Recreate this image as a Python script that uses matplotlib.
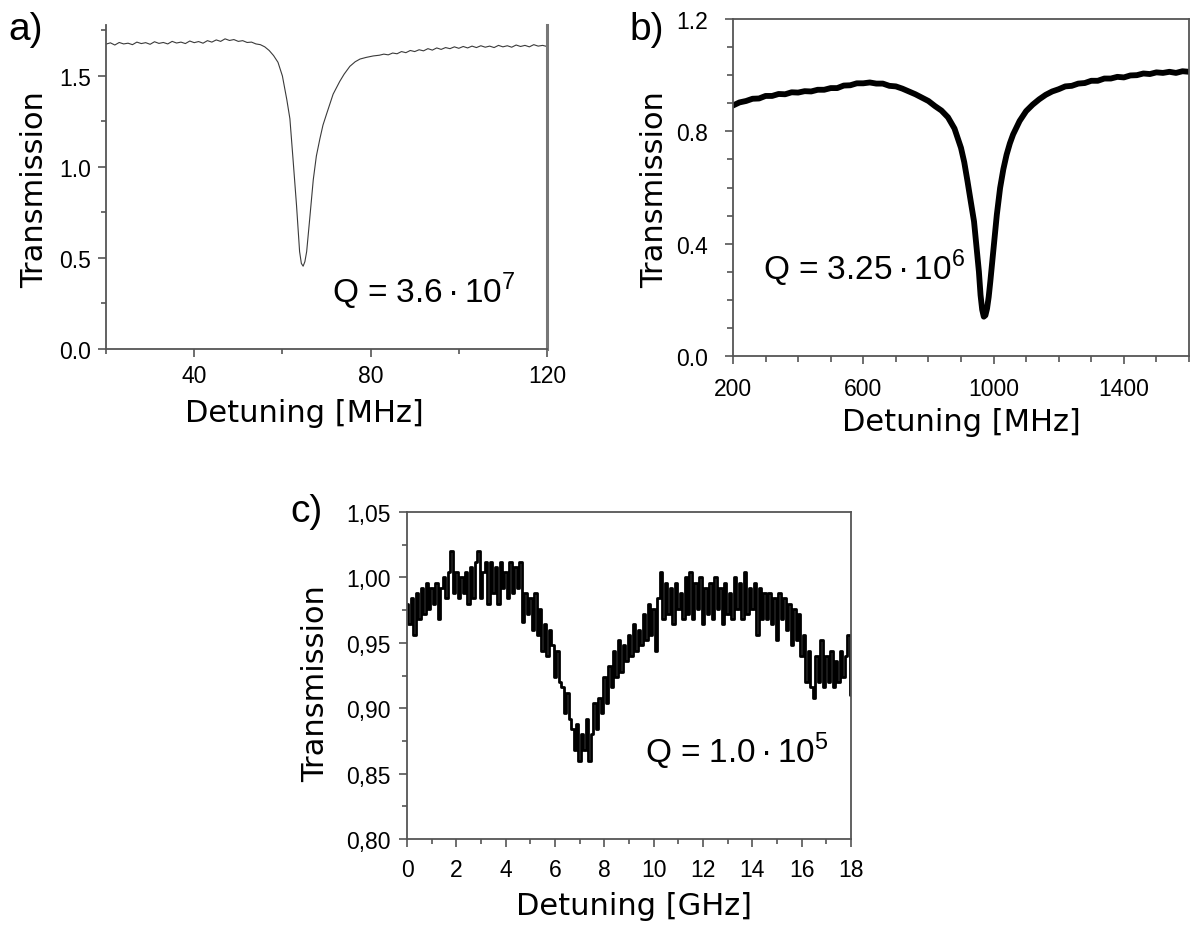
"""Three cavity transmission traces (a, b, c) with quality factors."""
import numpy as np
import matplotlib
matplotlib.use("Agg")
import matplotlib.pyplot as plt
from matplotlib.ticker import MultipleLocator, FixedLocator, FuncFormatter

plt.rcParams["font.family"] = ["Liberation Sans", "DejaVu Sans"]
plt.rcParams["mathtext.fontset"] = "custom"
plt.rcParams["mathtext.rm"] = "Liberation Sans"

W, H = 1200, 929

# --- data -----------------------------------------------------------------
# a) detuning [MHz] vs transmission
a_x = [20, 21, 22, 23, 24, 25, 26, 27, 28, 29, 30, 31, 32, 33, 34, 35, 36, 37,
       38, 39, 40, 41, 42, 43, 44, 45, 46, 47, 48, 49, 50, 51, 52, 53, 54, 55,
       56, 57, 58, 59, 60, 61, 61.7, 62.4, 63.2, 63.9, 64.3, 64.7, 65.1, 65.5,
       66.2, 67, 67.7, 68.5, 69.2, 70, 71.5, 73, 74, 75.3, 76.5, 77.6, 79,
       80.6, 82, 83, 84, 85, 86, 87, 88, 89, 90, 91, 92, 93, 94, 95, 96, 97,
       98, 99, 100, 101, 102, 103, 104, 105, 106, 107, 108, 109, 110, 111,
       112, 113, 114, 115, 116, 117, 118, 119, 120]
a_y = [1.675, 1.682, 1.670, 1.684, 1.676, 1.680, 1.672, 1.686, 1.678, 1.683,
       1.674, 1.688, 1.679, 1.684, 1.676, 1.690, 1.681, 1.686, 1.678, 1.692,
       1.683, 1.689, 1.680, 1.694, 1.686, 1.698, 1.690, 1.704, 1.695, 1.700,
       1.690, 1.694, 1.684, 1.686, 1.676, 1.672, 1.660, 1.640, 1.612, 1.575,
       1.500, 1.370, 1.265, 1.046, 0.790, 0.535, 0.470, 0.455, 0.480, 0.535,
       0.717, 0.930, 1.060, 1.155, 1.230, 1.290, 1.400, 1.470, 1.510, 1.553,
       1.578, 1.593, 1.602, 1.610, 1.614, 1.620, 1.616, 1.626, 1.622, 1.634,
       1.628, 1.640, 1.634, 1.644, 1.638, 1.650, 1.642, 1.654, 1.646, 1.656,
       1.650, 1.660, 1.652, 1.662, 1.654, 1.664, 1.656, 1.666, 1.658, 1.664,
       1.656, 1.668, 1.660, 1.666, 1.658, 1.670, 1.662, 1.668, 1.660, 1.672,
       1.664, 1.668, 1.662]

# b) detuning [MHz] vs transmission
b_x = [200, 220, 240, 260, 280, 300, 320, 340, 360, 380, 400, 420, 440, 460,
       480, 500, 520, 540, 560, 580, 600, 620, 640, 660, 680, 700, 720, 740,
       760, 780, 800, 820, 840, 860, 880, 900, 910, 920, 930, 940, 950, 955,
       960, 965, 970, 975, 980, 985, 990, 1000, 1010, 1020, 1030, 1040, 1050,
       1060, 1080, 1100, 1120, 1140, 1160, 1180, 1200, 1220, 1240, 1260, 1280,
       1300, 1320, 1340, 1360, 1380, 1400, 1420, 1440, 1460, 1480, 1500, 1520,
       1540, 1560, 1580, 1600]
b_y = [0.892, 0.903, 0.908, 0.916, 0.917, 0.926, 0.926, 0.933, 0.932, 0.939,
       0.938, 0.943, 0.942, 0.948, 0.948, 0.954, 0.954, 0.963, 0.964, 0.971,
       0.971, 0.974, 0.970, 0.970, 0.962, 0.960, 0.952, 0.942, 0.932, 0.920,
       0.908, 0.890, 0.874, 0.850, 0.810, 0.741, 0.690, 0.622, 0.550, 0.479,
       0.360, 0.300, 0.217, 0.165, 0.140, 0.145, 0.169, 0.210, 0.265, 0.384,
       0.503, 0.598, 0.665, 0.717, 0.757, 0.789, 0.837, 0.872, 0.895, 0.914,
       0.930, 0.942, 0.950, 0.960, 0.962, 0.970, 0.972, 0.980, 0.980, 0.988,
       0.988, 0.994, 0.992, 0.999, 1.000, 1.006, 1.004, 1.010, 1.008, 1.012,
       1.008, 1.014, 1.012]

# c) detuning [GHz] vs transmission, one sample every 0.1 GHz from 0 to 18
c_start, c_step = 0.0, 0.1
c_y = [0.980, 0.964, 0.984, 0.956, 0.988, 0.968,
       0.992, 0.972, 0.996, 0.976, 0.992, 0.980, 0.996, 0.968, 0.992,
       1.000, 0.984, 1.004, 1.020, 0.988, 1.004, 0.984, 1.000, 0.988, 1.004,
       0.980, 1.008, 0.984, 1.012, 1.020, 0.984, 1.004, 1.012, 0.980, 1.012,
       0.988, 1.008, 0.980, 1.012, 0.992, 1.004, 0.984, 1.012, 0.988, 1.008,
       0.992, 1.012,
       0.966, 0.988, 0.972, 0.984,
       0.960, 0.988, 0.956, 0.976,
       0.944, 0.964, 0.940, 0.960,
       0.948, 0.924, 0.944, 0.920,
       0.916, 0.896, 0.912, 0.892,
       0.884, 0.868, 0.888, 0.860, 0.880, 0.868, 0.892, 0.860,
       0.880, 0.904, 0.884, 0.908,
       0.896, 0.924, 0.904, 0.932,
       0.916, 0.944, 0.924, 0.952, 0.928, 0.948,
       0.936, 0.956, 0.940, 0.964, 0.944, 0.960,
       0.948, 0.972, 0.952, 0.980, 0.956, 0.976, 0.944, 0.984,
       1.004, 0.968, 0.996, 0.972, 0.992, 0.964, 0.996, 0.976, 0.988, 0.968,
       1.000, 0.972, 1.004, 0.968, 0.996, 0.976, 1.000, 0.964, 0.992, 0.972,
       0.996, 0.968, 1.000, 0.976, 0.992, 0.964, 0.996, 0.972, 0.988, 0.968,
       1.000, 0.976, 0.996, 0.968, 1.004, 0.972, 0.992, 0.976, 0.996, 0.956,
       0.992, 0.968, 0.988,
       0.968, 0.988, 0.964, 0.984, 0.952, 0.988, 0.968, 0.984, 0.960, 0.980,
       0.948, 0.976, 0.952, 0.972, 0.940, 0.956,
       0.920, 0.944, 0.916, 0.908, 0.940, 0.920, 0.952, 0.916, 0.940, 0.920,
       0.944, 0.916, 0.936, 0.920, 0.944, 0.924, 0.940, 0.956, 0.910]
c_x = c_start + c_step * np.arange(len(c_y))

b_xticks = [200, 600, 1000, 1400]
q_labels = [r"Q = 3.6$\,$·$\,$10$^{7}$", r"Q = 3.25$\,$·$\,$10$^{6}$",
            r"Q = 1.0$\,$·$\,$10$^{5}$"]


def px_axes(left, top, right, bottom):
    return fig.add_axes([left / W, 1 - bottom / H, (right - left) / W, (bottom - top) / H])


def ftext(x, y, s, **kw):
    fig.text(x / W, 1 - y / H, s, **kw)


fig = plt.figure(figsize=(W / 100, H / 100), dpi=100)
spine_c = "#555555"
label_font = ["DejaVu Sans"]

# --- a) ---------------------------------------------------------------------
ax = px_axes(106, 26, 547, 350)
ax.plot(a_x, a_y, color="#3a3a3a", lw=0.8)
ax.set_xlim(20, 120)
ax.set_ylim(0, 1.78)
ax.xaxis.set_major_locator(MultipleLocator(40))
ax.xaxis.set_minor_locator(MultipleLocator(20))
ax.yaxis.set_major_locator(MultipleLocator(0.5))
ax.yaxis.set_minor_locator(MultipleLocator(0.25))
ax.yaxis.set_major_formatter(FuncFormatter(lambda v, p: f"{v:.1f}"))
ax.spines["top"].set_visible(False)
ax.spines["right"].set_linewidth(2.2)
ax.spines["right"].set_color("#777777")
for s in ("left", "bottom"):
    ax.spines[s].set_linewidth(1.3)
    ax.spines[s].set_color(spine_c)
ax.tick_params(which="both", direction="out", color=spine_c, width=1.2,
               labelsize=16.5)
ax.tick_params(which="major", length=6, pad=5)
ax.tick_params(which="minor", length=3.5)
ax.tick_params(axis="y", which="both", right=False)

# --- b) ---------------------------------------------------------------------
bx = px_axes(733, 20, 1189, 357)
bx.plot(b_x, b_y, color="black", lw=4.2, solid_joinstyle="round")
bx.set_xlim(200, 1600)
bx.set_ylim(0, 1.2)
bx.xaxis.set_major_locator(FixedLocator(b_xticks))
bx.xaxis.set_minor_locator(MultipleLocator(100))
bx.yaxis.set_major_locator(MultipleLocator(0.4))
bx.yaxis.set_minor_locator(MultipleLocator(0.1))
bx.yaxis.set_major_formatter(FuncFormatter(lambda v, p: f"{v:.1f}"))
for s in bx.spines.values():
    s.set_linewidth(1.3)
    s.set_color(spine_c)
bx.tick_params(which="both", direction="out", color=spine_c, width=1.2,
               labelsize=16.5)
bx.tick_params(which="major", length=6)
bx.tick_params(which="minor", length=4)
bx.tick_params(axis="y", which="major", pad=12)
bx.tick_params(axis="x", which="major", pad=9)

# --- c) ---------------------------------------------------------------------
cx = px_axes(407, 513, 851, 840)
cx.plot(c_x, c_y, color="black", lw=2.0, drawstyle="steps-mid")
cx.set_xlim(0, 18)
cx.set_ylim(0.80, 1.05)
cx.xaxis.set_major_locator(MultipleLocator(2))
cx.xaxis.set_minor_locator(MultipleLocator(1))
cx.yaxis.set_major_locator(MultipleLocator(0.05))
cx.yaxis.set_minor_locator(MultipleLocator(0.025))
cx.yaxis.set_major_formatter(FuncFormatter(lambda v, p: f"{v:.2f}".replace(".", ",")))
for s in cx.spines.values():
    s.set_linewidth(1.3)
    s.set_color(spine_c)
cx.tick_params(which="both", direction="out", color=spine_c, width=1.2,
               labelsize=16.5)
cx.tick_params(which="major", length=6, pad=6)
cx.tick_params(which="minor", length=3.5)
cx.tick_params(axis="x", which="major", pad=8)

# --- text ---------------------------------------------------------------------
for x, y, s in [(8, 30, "a)"), (629, 30, "b)"), (290, 512, "c)")]:
    ftext(x, y, s, fontsize=28, ha="left", va="center")

for x, y in [(35, 190), (655, 190), (316, 684)]:
    ftext(x, y, "Transmission", fontsize=22, family=label_font, rotation=90,
          ha="center", va="center")

ftext(304, 413, "Detuning [MHz]", fontsize=22, family=label_font, ha="center", va="center")
ftext(961, 423, "Detuning [MHz]", fontsize=22, family=label_font, ha="center", va="center")
ftext(634, 907, "Detuning [GHz]", fontsize=22, family=label_font, ha="center", va="center")

for (x, y), s in zip([(332, 303), (763, 280), (645, 763)], q_labels):
    ftext(x, y, s, fontsize=24, ha="left", va="baseline")

fig.savefig("out.png", dpi=100)
